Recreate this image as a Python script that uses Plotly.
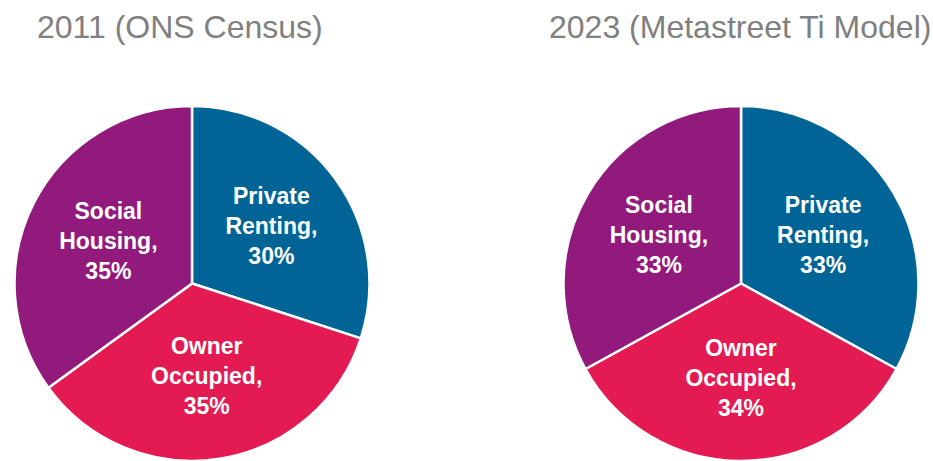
import plotly.graph_objects as go

# housing tenure split, % of households
categories = ["Private Renting", "Owner Occupied", "Social Housing"]
values_2011 = [30, 35, 35]
values_2023 = [33, 34, 33]
titles = ["2011 (ONS Census)", "2023 (Metastreet Ti Model)"]

colors = ["#006496", "#E31B52", "#921A7D"]
W, H = 933, 461

# labels broken over lines like the original
display = [c.replace(" ", "<br>") for c in categories]


def make_pie(vals, x0, x1):
    return go.Pie(
        labels=categories,
        values=vals,
        text=display,
        texttemplate="%{text},<br>%{value}%",
        textposition="inside",
        insidetextorientation="horizontal",
        textfont=dict(family="Liberation Sans, Arial", size=23, color="white", weight="bold"),
        sort=False,
        direction="clockwise",
        rotation=0,
        marker=dict(colors=colors, line=dict(color="white", width=2.5)),
        domain=dict(x=[x0 / W, x1 / W], y=[0, 1 - 106 / H]),
        hoverinfo="label+percent",
        showlegend=False,
    )


fig = go.Figure()
fig.add_trace(make_pie(values_2011, 12, 372))
fig.add_trace(make_pie(values_2023, 561, 921))

for t, cx in zip(titles, [180, 740]):
    fig.add_annotation(
        text=t, x=cx / W, y=1 - 27 / H, xref="paper", yref="paper",
        xanchor="center", yanchor="middle", showarrow=False,
        font=dict(family="Liberation Sans, Arial", size=32, color="#808080"),
    )

fig.update_layout(
    width=W, height=H,
    margin=dict(l=0, r=0, t=0, b=0),
    paper_bgcolor="white", plot_bgcolor="white",
    uniformtext=dict(minsize=23, mode="show"),
)
# drop the default 8px page margin so the figure fills the window
fig.write_html("out.html", config={"displayModeBar": False},
               post_script="document.body.style.margin='0px';")
